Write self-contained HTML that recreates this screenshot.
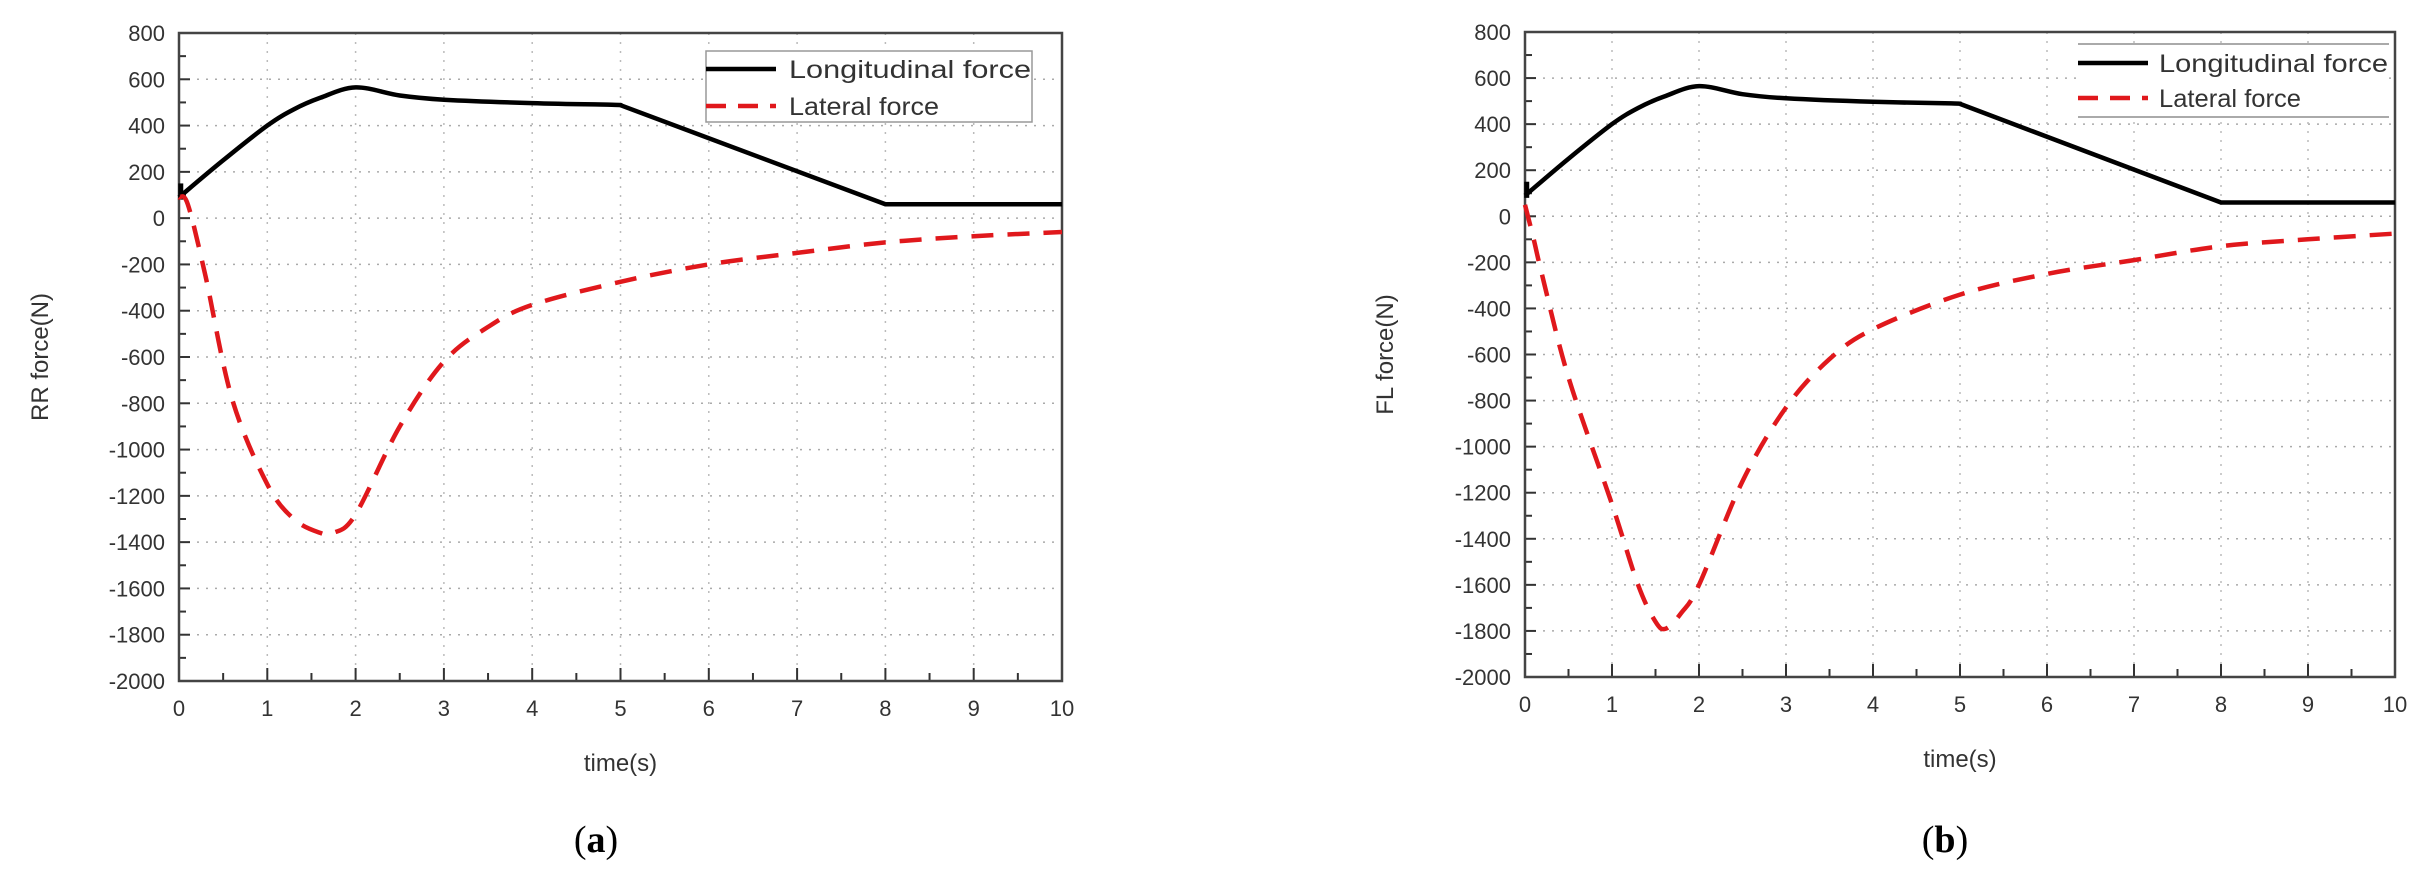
<!DOCTYPE html>
<html><head><meta charset="utf-8"><style>
html,body{margin:0;padding:0;background:#fff;}
svg{display:block;}
text{font-family:"Liberation Sans",sans-serif;fill:#333;}
</style></head><body>
<svg id="s" width="2436" height="882" viewBox="0 0 2436 882" xmlns="http://www.w3.org/2000/svg"></svg>
<script>
const S=document.getElementById('s');
let out='';
function panel(o){
  const X=t=>o.x0+t*(o.x1-o.x0)/10;
  const Y=v=>o.y0+(800-v)*(o.y1-o.y0)/2800;
  // grid
  for(let v=-1800;v<=600;v+=200){out+=`<line x1="${o.x0}" x2="${o.x1}" y1="${Y(v)}" y2="${Y(v)}" stroke="#aaa" stroke-width="1.5" stroke-dasharray="2,7"/>`;}
  for(let t=1;t<10;t++){out+=`<line x1="${X(t)}" x2="${X(t)}" y1="${o.y0}" y2="${o.y1}" stroke="#bbb" stroke-width="1.5" stroke-dasharray="2,7"/>`;}
  // ticks
  for(let v=-2000;v<=800;v+=100){const maj=v%200===0;out+=`<line x1="${o.x0}" x2="${o.x0+(maj?11:7)}" y1="${Y(v)}" y2="${Y(v)}" stroke="#333" stroke-width="2"/>`;
    if(maj) out+=`<text x="${o.x0-14}" y="${Y(v)+8}" font-size="22" text-anchor="end">${v}</text>`;}
  for(let i=0;i<=20;i++){const t=i/2,maj=i%2===0;out+=`<line x1="${X(t)}" x2="${X(t)}" y1="${o.y1}" y2="${o.y1-(maj?13:8)}" stroke="#333" stroke-width="2"/>`;
    if(maj) out+=`<text x="${X(t)}" y="${o.y1+35}" font-size="22" text-anchor="middle">${t}</text>`;}
  out+=`<rect x="${o.x0}" y="${o.y0}" width="${o.x1-o.x0}" height="${o.y1-o.y0}" fill="none" stroke="#444" stroke-width="2.5"/>`;
  // curves
  function path(pts){const p=pts.map(a=>[X(a[0]),Y(a[1])]);let d=`M${p[0][0]},${p[0][1]}`;
    for(let i=0;i<p.length-1;i++){const p0=p[Math.max(0,i-1)],p1=p[i],p2=p[i+1],p3=p[Math.min(p.length-1,i+2)];
      const c1=[p1[0]+(p2[0]-p0[0])/6,p1[1]+(p2[1]-p0[1])/6],c2=[p2[0]-(p3[0]-p1[0])/6,p2[1]-(p3[1]-p1[1])/6];
      d+=` C${c1[0].toFixed(1)},${c1[1].toFixed(1)} ${c2[0].toFixed(1)},${c2[1].toFixed(1)} ${p2[0].toFixed(1)},${p2[1].toFixed(1)}`;}
    return d;}
  const lon=[[0,90],[0.5,250],[1,400],[1.3,470],[1.6,520],[2,565],[2.5,530],[3,512],[4,497],[4.9,490],[5,488]];
  out+=`<path d="${path(lon)} L${X(8)},${Y(60)} L${X(10)},${Y(60)}" fill="none" stroke="#000" stroke-width="4.5" stroke-linejoin="round"/>`;
  out+=`<line x1="${X(0.02)}" x2="${X(0.02)}" y1="${Y(150)}" y2="${Y(80)}" stroke="#000" stroke-width="5"/>`;
  out+=`<path d="${path(o.lat)}" fill="none" stroke="#e0181c" stroke-width="4.5" stroke-dasharray="22,14"/>`;
  out+=`<text transform="translate(${o.yt},${(o.y0+o.y1)/2}) rotate(-90)" font-size="24" text-anchor="middle">${o.ylab}</text>`;
  out+=`<text x="${(o.x0+o.x1)/2}" y="${o.y1+90}" font-size="24" text-anchor="middle">time(s)</text>`;
  out+=`<text x="${o.cap}" y="852" font-size="38" text-anchor="middle" style="font-family:'Liberation Serif',serif;fill:#000">(<tspan font-weight="bold">${o.c}</tspan>)</text>`;
  const L=o.leg;
  if(o.c==='a'){out+=`<rect x="${L.x}" y="${L.y}" width="${L.w}" height="${L.h}" fill="#fff" stroke="#999" stroke-width="1.5"/>`;}
  else{out+=`<rect x="${L.x}" y="${L.y}" width="${L.w}" height="${L.h}" fill="#fff"/><line x1="${L.x}" x2="${L.x+L.w}" y1="${L.y}" y2="${L.y}" stroke="#aaa" stroke-width="2"/><line x1="${L.x}" x2="${L.x+L.w}" y1="${L.y+L.h}" y2="${L.y+L.h}" stroke="#aaa" stroke-width="2"/>`;}
  out+=`<line x1="${L.x}" x2="${L.x+70}" y1="${L.l1}" y2="${L.l1}" stroke="#000" stroke-width="4.5"/>`;
  out+=`<line x1="${L.x}" x2="${L.x+70}" y1="${L.l2}" y2="${L.l2}" stroke="#e0181c" stroke-width="4.5" stroke-dasharray="20,12"/>`;
  out+=`<text x="${L.tx}" y="${L.l1+9}" font-size="25" textLength="${L.tw}" lengthAdjust="spacingAndGlyphs">Longitudinal force</text>`;
  out+=`<text x="${L.tx}" y="${L.l2+9}" font-size="25" textLength="${L.tw*0.62}" lengthAdjust="spacingAndGlyphs">Lateral force</text>`;
}
panel({x0:179,x1:1062,y0:33,y1:681,c:'a',ylab:'RR force(N)',yt:48,cap:596,
 lat:[[0,90],[0.1,60],[0.3,-250],[0.6,-780],[1,-1150],[1.3,-1300],[1.6,-1360],[1.75,-1360],[2,-1280],[2.5,-900],[3,-620],[3.5,-470],[4,-375],[5,-275],[6,-200],[7,-150],[8,-105],[9,-78],[10,-60]],
 leg:{x:706,y:51,w:326,h:71,l1:69,l2:106,tx:789,tw:242}});
panel({x0:1525,x1:2395,y0:32,y1:677,c:'b',ylab:'FL force(N)',yt:1393,cap:1945,
 lat:[[0,50],[0.1,-100],[0.2,-260],[0.5,-700],[1,-1250],[1.3,-1600],[1.5,-1760],[1.62,-1790],[1.8,-1720],[2,-1600],[2.5,-1150],[3,-830],[3.5,-620],[4,-490],[5,-340],[6,-250],[7,-190],[8,-130],[9,-100],[10,-75]],
 leg:{x:2078,y:44,w:311,h:73,l1:63,l2:98,tx:2159,tw:229}});
S.innerHTML=out;
</script>
</body></html>
